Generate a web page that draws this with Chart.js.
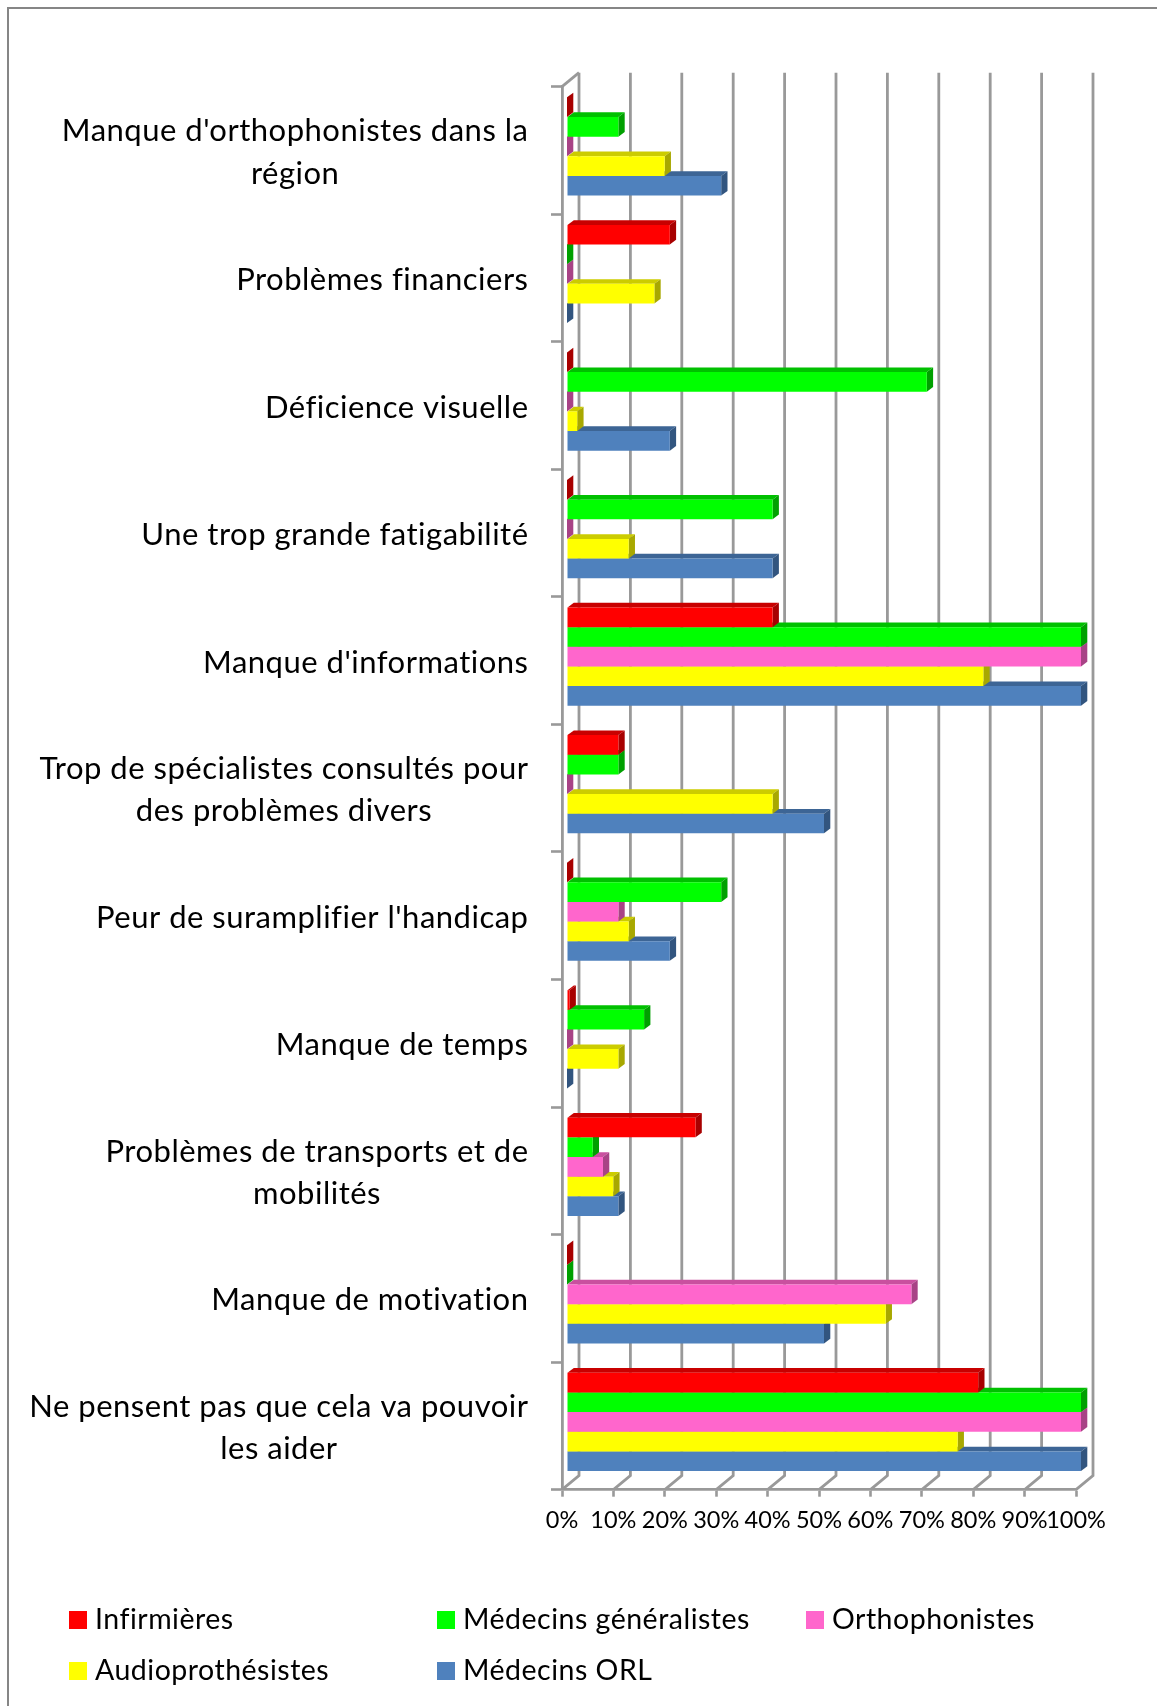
<!DOCTYPE html>
<html lang="fr">
<head>
<meta charset="utf-8">
<title>Freins</title>
<script src="https://cdn.jsdelivr.net/npm/chart.js@4"></script>
<style>
  html, body { margin: 0; padding: 0; background: #fff; }
  canvas { display: block; }
</style>
</head>
<body>
<canvas id="chart" width="1157" height="1706"></canvas>
<script>
// Data (percent)
const categories = [
    ["Manque d'orthophonistes dans la", "région"],
    ["Problèmes financiers"],
    ["Déficience visuelle"],
    ["Une trop grande fatigabilité"],
    ["Manque d'informations"],
    ["Trop de spécialistes consultés pour", "des problèmes divers"],
    ["Peur de suramplifier l'handicap"],
    ["Manque de temps"],
    ["Problèmes de transports et de", "mobilités"],
    ["Manque de motivation"],
    ["Ne pensent pas que cela va pouvoir", "les aider"]
];
const infirmieres      = [0, 20, 0, 0, 40, 10, 0, 0.5, 25, 0, 80];
const generalistes     = [10, 0, 70, 40, 100, 10, 30, 15, 5, 0, 100];
const orthophonistes   = [0, 0, 0, 0, 100, 0, 10, 0, 7, 67, 100];
const audioprothesistes = [19, 17, 2, 12, 81, 40, 12, 10, 9, 62, 76];
const orl              = [30, 0, 20, 40, 100, 50, 20, 0, 10, 50, 100];

const FONT = 'Lato, "Noto Sans", sans-serif';
const GRAY = '#999999';

// 3D look of the Excel chart
const WALL = { dx: 17, dy: -14 };      // front axes -> back wall
const BAR_SHIFT = { dx: 5, dy: -4 };   // bars sit slightly inside the floor
const DEPTH = { dx: 6.3, dy: -4.7 };   // depth of one bar

function series(label, data, front, top, side) {
    return { label, data, backgroundColor: front, topColor: top, sideColor: side, borderWidth: 0, clip: false };
}

// Back wall and floor, drawn behind the bars
const wallPlugin = {
    id: 'wall',
    beforeDraw(chart) {
        const ctx = chart.ctx;
        ctx.save();
        ctx.strokeStyle = '#868686';
        ctx.lineWidth = 2;
        ctx.beginPath();
        ctx.moveTo(8, 1706);
        ctx.lineTo(8, 8);
        ctx.lineTo(1157, 8);
        ctx.stroke();
        ctx.restore();
    },
    beforeDatasetsDraw(chart) {
        const { ctx, chartArea, scales } = chart;
        ctx.save();
        ctx.strokeStyle = GRAY;
        ctx.lineWidth = 2.8;
        scales.x.ticks.forEach((t, i) => {
            const x = scales.x.getPixelForTick(i);
            ctx.beginPath();
            ctx.moveTo(x, chartArea.bottom);
            ctx.lineTo(x + WALL.dx, chartArea.bottom + WALL.dy);
            ctx.lineTo(x + WALL.dx, chartArea.top + WALL.dy);
            ctx.stroke();
        });
        ctx.beginPath();
        ctx.moveTo(chartArea.left, chartArea.top);
        ctx.lineTo(chartArea.left + WALL.dx, chartArea.top + WALL.dy);
        ctx.stroke();
        ctx.restore();

        ctx.save();
        ctx.translate(BAR_SHIFT.dx, BAR_SHIFT.dy);
    },
    beforeDatasetDraw(chart, args) {
        const ctx = chart.ctx;
        const ds = chart.data.datasets[args.index];
        args.meta.data.forEach(bar => {
            const top = bar.y - bar.height / 2;
            const bottom = bar.y + bar.height / 2;
            ctx.fillStyle = ds.topColor;
            ctx.beginPath();
            ctx.moveTo(bar.base, top);
            ctx.lineTo(bar.base + DEPTH.dx, top + DEPTH.dy);
            ctx.lineTo(bar.x + DEPTH.dx, top + DEPTH.dy);
            ctx.lineTo(bar.x, top);
            ctx.closePath();
            ctx.fill();
            ctx.fillStyle = ds.sideColor;
            ctx.beginPath();
            ctx.moveTo(bar.x, top);
            ctx.lineTo(bar.x + DEPTH.dx, top + DEPTH.dy);
            ctx.lineTo(bar.x + DEPTH.dx, bottom + DEPTH.dy);
            ctx.lineTo(bar.x, bottom);
            ctx.closePath();
            ctx.fill();
        });
    },
    afterDatasetsDraw(chart) {
        chart.ctx.restore();
    }
};

// Category labels: block right-aligned on the axis, lines centred in the block
const categoryLabelPlugin = {
    id: 'categoryLabels',
    afterDraw(chart) {
        const { ctx, scales } = chart;
        const right = 528.5, lineH = 42.5;
        ctx.save();
        ctx.font = '31px ' + FONT;
        ctx.letterSpacing = '0.5px'; // also stops Lato's fi/ti ligatures
        ctx.fillStyle = '#000';
        ctx.textAlign = 'center';
        ctx.textBaseline = 'middle';
        categories.forEach((lines, i) => {
            const w = Math.max(...lines.map(l => ctx.measureText(l).width));
            const y = scales.y.getPixelForValue(i) + 2;
            lines.forEach((l, j) => {
                ctx.fillText(l, right - w / 2, y + (j - (lines.length - 1) / 2) * lineH);
            });
        });
        ctx.restore();
    }
};

// Legend is laid out in fixed columns in the original, which the built-in one can't do
const legendPlugin = {
    id: 'gridLegend',
    afterDraw(chart) {
        const ctx = chart.ctx;
        const cols = [69, 437, 806], rows = [1611, 1662];
        ctx.save();
        ctx.font = '28.5px ' + FONT;
        ctx.letterSpacing = '0.5px';
        ctx.textBaseline = 'middle';
        chart.data.datasets.forEach((ds, i) => {
            const x = cols[i % 3], y = rows[Math.floor(i / 3)];
            ctx.fillStyle = ds.backgroundColor;
            ctx.fillRect(x, y, 18, 18);
            ctx.fillStyle = '#000';
            ctx.fillText(ds.label, x + 26, y + 9);
        });
        ctx.restore();
    }
};

new Chart(document.getElementById('chart'), {
    type: 'bar',
    data: {
        labels: categories,
        datasets: [
            series('Infirmières', infirmieres, '#FF0000', '#C80000', '#A80000'),
            series('Médecins généralistes', generalistes, '#00FF00', '#00C000', '#00A000'),
            series('Orthophonistes', orthophonistes, '#FF66CC', '#C9509F', '#A84386'),
            series('Audioprothésistes', audioprothesistes, '#FFFF00', '#CCCC00', '#A8A800'),
            series('Médecins ORL', orl, '#4F81BD', '#3D6595', '#32557F')
        ]
    },
    options: {
        indexAxis: 'y',
        responsive: false,
        animation: false,
        layout: { padding: { left: 0, right: 81, top: 86.7, bottom: 0 } },
        categoryPercentage: 0.77,
        barPercentage: 1,
        plugins: { legend: { display: false }, title: { display: false }, tooltip: { enabled: false } },
        scales: {
            x: {
                min: 0,
                max: 100,
                afterFit(scale) { scale.height = 216.3; },
                border: { color: GRAY, width: 2.8 },
                grid: { drawOnChartArea: false, color: GRAY, tickLength: 7, tickWidth: 2.6 },
                ticks: {
                    stepSize: 10,
                    maxRotation: 0,
                    autoSkip: false,
                    padding: 10,
                    color: '#000',
                    font: { family: FONT, size: 23.5 },
                    callback: v => v + '%'
                }
            },
            y: {
                afterFit(scale) { scale.width = 562; },
                border: { color: GRAY, width: 2.8 },
                grid: { drawOnChartArea: false, color: GRAY, tickLength: 11, tickWidth: 2.6 },
                ticks: { display: false }
            }
        }
    },
    plugins: [wallPlugin, categoryLabelPlugin, legendPlugin]
});
</script>
</body>
</html>
